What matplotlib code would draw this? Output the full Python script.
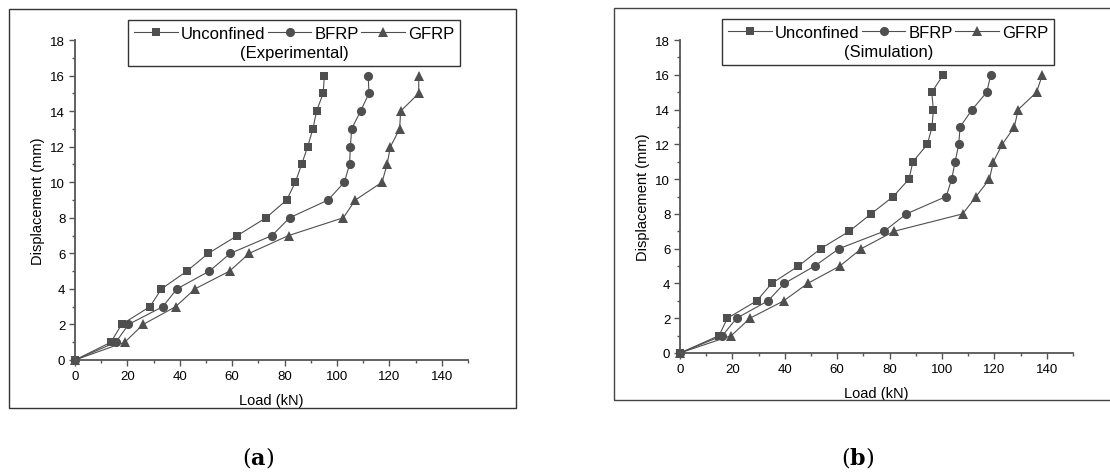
import matplotlib
matplotlib.use("Agg")
import matplotlib.pyplot as plt
from matplotlib.patches import Rectangle
from matplotlib.ticker import MultipleLocator

plt.rcParams['font.family'] = ['Liberation Sans', 'DejaVu Sans']
plt.rcParams['mathtext.fontset'] = 'dejavuserif'

# ---------------- data ----------------
displacement = [0, 1, 2, 3, 4, 5, 6, 7, 8, 9, 10, 11, 12, 13, 14, 15, 16]

exp_unconfined = [0, 13.7, 17.8, 28.6, 33.0, 42.7, 50.9, 62.0, 72.9, 80.8,
                  84.1, 86.5, 88.8, 90.8, 92.2, 94.7, 95.2]
exp_bfrp = [0, 15.6, 20.4, 33.5, 38.9, 51.3, 59.3, 75.2, 81.9, 96.6,
            102.8, 104.8, 105.1, 105.6, 109.0, 112.2, 111.9]
exp_gfrp = [0, 19.0, 26.0, 38.4, 45.8, 59.0, 66.5, 81.5, 102.4, 107.0,
            117.2, 119.1, 120.4, 123.9, 124.3, 131.2, 131.2]

sim_unconfined = [0, 14.9, 18.1, 29.3, 35.0, 45.2, 53.7, 64.6, 72.9, 81.4,
                  87.4, 88.9, 94.4, 96.2, 96.7, 96.1, 100.5]
sim_bfrp = [0, 16.2, 21.6, 33.6, 39.8, 51.4, 60.7, 77.9, 86.4, 101.6,
            103.7, 105.0, 106.4, 106.9, 111.5, 117.1, 118.6]
sim_gfrp = [0, 19.6, 26.7, 39.6, 48.7, 61.0, 69.2, 81.7, 107.9, 113.0,
            118.1, 119.6, 123.0, 127.6, 129.1, 136.1, 138.3]

series_names = ['Unconfined', 'BFRP', 'GFRP']
panel_titles = ['(Experimental)', '(Simulation)']
captions = ['a', 'b']

W, H = 1110, 477
fig = plt.figure(figsize=(W / 100, H / 100), dpi=100)

col = '#4f4f4f'
spine_col = '#555555'


def fx(px):
    return px / W


def fy(py):
    return 1 - py / H


# panel frames
fig.add_artist(Rectangle((fx(9), fy(409)), fx(516) - fx(9), fy(10) - fy(409),
                         transform=fig.transFigure, fill=False,
                         edgecolor='#333333', lw=1.0))
fig.add_artist(Rectangle((fx(614), fy(401)), fx(1115) - fx(614), fy(9) - fy(401),
                         transform=fig.transFigure, fill=False,
                         edgecolor='#444444', lw=1.0, clip_on=False))

axes_specs = [
    dict(x0=75, y0=361, y18=41, leg=(0.98, 1.0625), data=(exp_unconfined, exp_bfrp, exp_gfrp)),
    dict(x0=680, y0=354, y18=41, leg=(0.952, 1.066), data=(sim_unconfined, sim_bfrp, sim_gfrp)),
]
markers = ['s', 'o', '^']
msizes = [5.8, 6.6, 7.2]

for i, spec in enumerate(axes_specs):
    x0 = spec['x0']
    x1 = x0 + 150 * 2.62
    ax = fig.add_axes([fx(x0), fy(spec['y0']), fx(x1) - fx(x0), fy(spec['y18']) - fy(spec['y0'])])
    handles = []
    for name, vals, m, ms in zip(series_names, spec['data'], markers, msizes):
        h, = ax.plot(vals, displacement, marker=m, ms=ms, color=col, lw=0.8,
                     markeredgewidth=0, label=name, clip_on=False)
        handles.append(h)
    ax.set_xlim(0, 150)
    ax.set_ylim(0, 18)
    ax.xaxis.set_minor_locator(MultipleLocator(10))
    ax.yaxis.set_major_locator(MultipleLocator(2))
    ax.yaxis.set_minor_locator(MultipleLocator(1))
    ax.set_xticks(range(0, 141, 20))
    ax.set_xlim(0, 150)
    for s in ['top', 'right']:
        ax.spines[s].set_visible(False)
    for s in ['left', 'bottom']:
        ax.spines[s].set_color(spine_col)
        ax.spines[s].set_linewidth(1.3)
    ax.tick_params(which='major', direction='out', length=4.5, width=1.0,
                   color=spine_col, labelsize=9.5, pad=2.5)
    ax.tick_params(which='minor', direction='out', length=2.5, width=1.0,
                   color=spine_col)
    ax.set_xlabel('Load (kN)', fontsize=10.5, labelpad=8)
    ax.set_ylabel('Displacement (mm)', fontsize=10.5, labelpad=4)
    ax.patch.set_alpha(0)

    leg = ax.legend(handles=handles, ncol=3, loc='upper right',
                    bbox_to_anchor=spec['leg'], borderaxespad=0,
                    fontsize=12, title=panel_titles[i], title_fontsize=12,
                    handlelength=2.6, handletextpad=0.2, columnspacing=0.15,
                    frameon=True, fancybox=False, edgecolor='black',
                    borderpad=0.35, labelspacing=0.3, markerscale=1.0)
    leg.get_frame().set_linewidth(1.0)
    # put the title below the entries
    leg._legend_box._children.reverse()
    leg._legend_box.sep = 3

    cx = [258, 858][i]
    fig.text(fx(cx), fy(458), r'($\mathbf{%s}$)' % captions[i], ha='center',
             va='center', fontsize=16, family='DejaVu Serif')

fig.savefig('out.png', dpi=100)
